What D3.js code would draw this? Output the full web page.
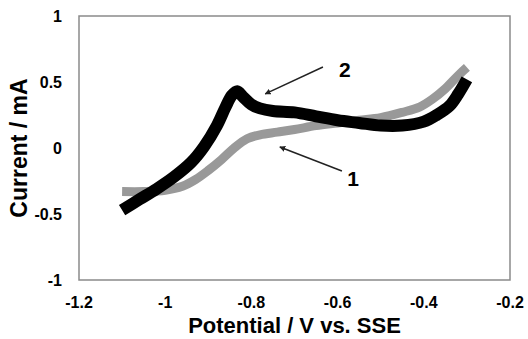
<!DOCTYPE html>
<html>
<head>
<meta charset="utf-8">
<script src="https://cdn.jsdelivr.net/npm/d3@7"></script>
<style>
  body { margin: 0; background: #fff; }
  text { font-family: "Liberation Sans", Arial, sans-serif; font-weight: bold; }
</style>
</head>
<body>
<svg id="chart"></svg>
<script>
// curve 1 (grey)
const potential1 = [-1.10, -1.05, -1.00, -0.96, -0.93, -0.90, -0.87, -0.84, -0.81, -0.78, -0.74, -0.70, -0.65, -0.60, -0.55, -0.50, -0.45, -0.41, -0.38, -0.35, -0.32, -0.30]
const current1 = [-0.33, -0.33, -0.32, -0.29, -0.24, -0.17, -0.09, 0.00, 0.07, 0.10, 0.12, 0.14, 0.17, 0.19, 0.21, 0.23, 0.27, 0.31, 0.37, 0.45, 0.55, 0.61]

// curve 2 (black)
const potential2 = [-1.10, -1.06, -1.02, -0.98, -0.94, -0.91, -0.88, -0.86, -0.845, -0.833, -0.82, -0.80, -0.78, -0.75, -0.70, -0.65, -0.60, -0.55, -0.50, -0.45, -0.40, -0.37, -0.34, -0.32, -0.30]
const current2 = [-0.47, -0.39, -0.31, -0.22, -0.11, 0.01, 0.17, 0.31, 0.40, 0.43, 0.39, 0.33, 0.30, 0.28, 0.27, 0.24, 0.21, 0.19, 0.17, 0.17, 0.20, 0.25, 0.32, 0.41, 0.52]

const xTicks = [-1.2, -1, -0.8, -0.6, -0.4, -0.2]
const yTicks = [-1, -0.5, 0, 0.5, 1]

// arrow annotations: [fromX, fromY, toX, toY], label position
const labels = ["1", "2"]
const arrows = [[-0.590, -0.174, -0.734, 0.008], [-0.634, 0.614, -0.768, 0.41]]
const labelPos = [[-0.564, -0.23], [-0.583, 0.59]]

const width = 528, height = 339
const margin = { top: 16, right: 18, bottom: 59, left: 79 }

const svg = d3.select("#chart").attr("width", width).attr("height", height)

const x = d3.scaleLinear().domain([-1.2, -0.2]).range([margin.left, width - margin.right])
const y = d3.scaleLinear().domain([-1, 1]).range([height - margin.bottom, margin.top])

svg.append("defs").append("marker")
    .attr("id", "head")
    .attr("viewBox", "0 0 10 10")
    .attr("refX", 9).attr("refY", 5)
    .attr("markerWidth", 6).attr("markerHeight", 6)
    .attr("markerUnits", "userSpaceOnUse")
    .attr("orient", "auto")
  .append("path")
    .attr("d", "M0,0 L10,5 L0,10 z")
    .attr("fill", "#222")

// plot frame
svg.append("rect")
    .attr("x", x(-1.2)).attr("y", y(1))
    .attr("width", x(-0.2) - x(-1.2))
    .attr("height", y(-1) - y(1))
    .attr("fill", "none")
    .attr("stroke", "#8a8a8a")
    .attr("stroke-width", 1.5)

// tick labels
svg.append("g").selectAll("text")
    .data(xTicks).enter().append("text")
    .attr("x", d => x(d))
    .attr("y", height - margin.bottom + 28)
    .attr("text-anchor", "middle")
    .style("font-size", "16px")
    .text(d => d)

svg.append("g").selectAll("text")
    .data(yTicks).enter().append("text")
    .attr("x", margin.left - 17)
    .attr("y", d => y(d))
    .attr("dy", "0.35em")
    .attr("text-anchor", "end")
    .style("font-size", "16px")
    .text(d => d)

// axis titles
svg.append("text")
    .attr("x", (x(-1.2) + x(-0.2)) / 2)
    .attr("y", height - 6)
    .attr("text-anchor", "middle")
    .style("font-size", "22px")
    .text("Potential / V vs. SSE")

svg.append("text")
    .attr("transform", "translate(" + [27, (y(-1) + y(1)) / 2] + ") rotate(-90)")
    .attr("text-anchor", "middle")
    .style("font-size", "23px")
    .text("Current / mA")

// curves
const line = d3.line()
    .x(d => x(d[0]))
    .y(d => y(d[1]))
    .curve(d3.curveCatmullRom.alpha(0.5))

svg.append("path")
    .datum(d3.zip(potential1, current1))
    .attr("d", line)
    .attr("fill", "none")
    .attr("stroke", "#999")
    .attr("stroke-width", 9)
    .attr("stroke-linejoin", "round")

svg.append("path")
    .datum(d3.zip(potential2, current2))
    .attr("d", line)
    .attr("fill", "none")
    .attr("stroke", "#000")
    .attr("stroke-width", 12)
    .attr("stroke-linejoin", "round")

// annotations
svg.append("g").selectAll("line")
    .data(arrows).enter().append("line")
    .attr("x1", d => x(d[0])).attr("y1", d => y(d[1]))
    .attr("x2", d => x(d[2])).attr("y2", d => y(d[3]))
    .attr("stroke", "#222")
    .attr("stroke-width", 1.5)
    .attr("marker-end", "url(#head)")

svg.append("g").selectAll("text")
    .data(labels).enter().append("text")
    .attr("x", (d, i) => x(labelPos[i][0]))
    .attr("y", (d, i) => y(labelPos[i][1]))
    .attr("dy", "0.35em")
    .attr("text-anchor", "middle")
    .style("font-size", "21px")
    .text(d => d)
</script>
</body>
</html>
